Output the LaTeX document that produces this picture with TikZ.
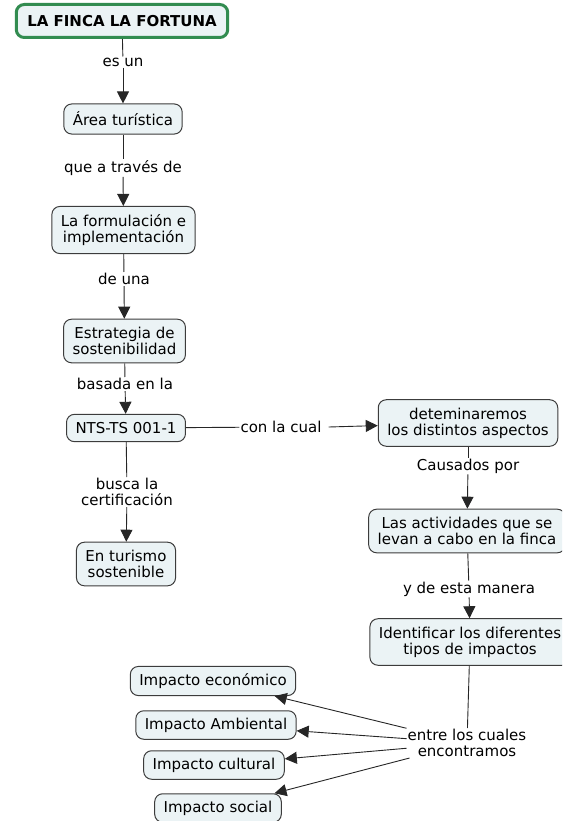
\documentclass[tikz,border=0pt]{standalone}
\usepackage{fontspec}
\setmainfont{DejaVu Sans}
\usetikzlibrary{arrows.meta}
\definecolor{conceptfill}{RGB}{235, 243, 245}
\definecolor{conceptline}{RGB}{60, 60, 60}
\definecolor{rootgreen}{RGB}{50, 140, 80}

\begin{document}
\begin{tikzpicture}[x=1pt, y=-1pt,
        concept/.style={draw=conceptline, line width=1pt, rounded corners=8pt, fill=conceptfill, align=center, font=\fontsize{15}{16}\selectfont, inner xsep=9pt, inner ysep=8pt},
        root/.style={concept, draw=rootgreen, line width=3pt, font=\fontsize{15}{16}\selectfont\bfseries, minimum height=33pt, inner xsep=11pt},
        link/.style={align=center, font=\fontsize{15}{16}\selectfont, inner sep=1pt},
        line/.style={draw=black!85, line width=0.9pt},
        arrow/.style={line, -{Triangle[length=12pt, width=12pt]}}
      ]
        \useasboundingbox (0, 0) rectangle (562, 821);
        \clip (0, 0) rectangle (562, 821);
        % left column
        \node[root] (finca) at (122, 21) {LA FINCA LA FORTUNA};
        \node[link] (esun) at (123, 62) {es un};
        \node[concept] (area) at (123, 119) {Área turística};
        \node[link] (traves) at (123, 168) {que a través de};
        \node[concept] (formul) at (123.5, 230) {La formulación e\\implementación};
        \node[link] (deuna) at (124, 279) {de una};
        \node[concept] (estrat) at (124.5, 341) {Estrategia de\\sostenibilidad};
        \node[link] (basada) at (125, 384) {basada en la};
        \node[concept] (nts) at (126, 428) {NTS-TS 001-1};
        \node[link] (busca) at (127, 492) {busca la\\certificación};
        \node[concept] (turismo) at (126, 564) {En turismo\\sostenible};
        % right column
        \node[link] (cual) at (281, 427) {con la cual};
        \node[concept] (aspectos) at (468, 423) {deteminaremos\\los distintos aspectos};
        \node[link] (causados) at (468, 466) {Causados por};
        \node[concept] (activ) at (467, 531) {Las actividades que se\\levan a cabo en la finca};
        \node[link] (manera) at (469, 589) {y de esta manera};
        \node[concept] (identif) at (470, 642) {Identificar los diferentes\\tipos de impactos};
        \node[link] (entre) at (467, 743) {entre los cuales\\encontramos};
        % impacts
        \node[concept, inner ysep=7pt] (econ) at (213, 681) {Impacto económico};
        \node[concept, inner ysep=7pt] (amb) at (216, 725) {Impacto Ambiental};
        \node[concept, inner ysep=7pt] (cult) at (214, 765) {Impacto cultural};
        \node[concept, inner ysep=7pt] (social) at (218, 808) {Impacto social};

        \draw[line] (finca) -- (esun);
        \draw[arrow] (esun) -- (area);
        \draw[line] (area) -- (traves);
        \draw[arrow] (traves) -- (formul);
        \draw[line] (formul) -- (deuna);
        \draw[arrow] (deuna) -- (estrat);
        \draw[line] (estrat) -- (basada);
        \draw[arrow] (basada) -- (nts);
        \draw[line] (nts) -- (busca);
        \draw[arrow] (busca) -- (turismo);
        \draw[line] (nts) -- (cual);
        \draw[arrow] (cual.east) ++(6, 0) coordinate (cualend) (cualend) -- (aspectos);
        \draw[line] (aspectos) -- (causados);
        \draw[arrow] (causados) -- (activ);
        \draw[line] (activ) -- (manera);
        \draw[arrow] (manera) -- (identif);
        \draw[line] (identif) -- (entre);
        \foreach \impact in {econ, amb, cult, social}
          \draw[arrow] (entre) -- (\impact);
      \end{tikzpicture}
\end{document}
